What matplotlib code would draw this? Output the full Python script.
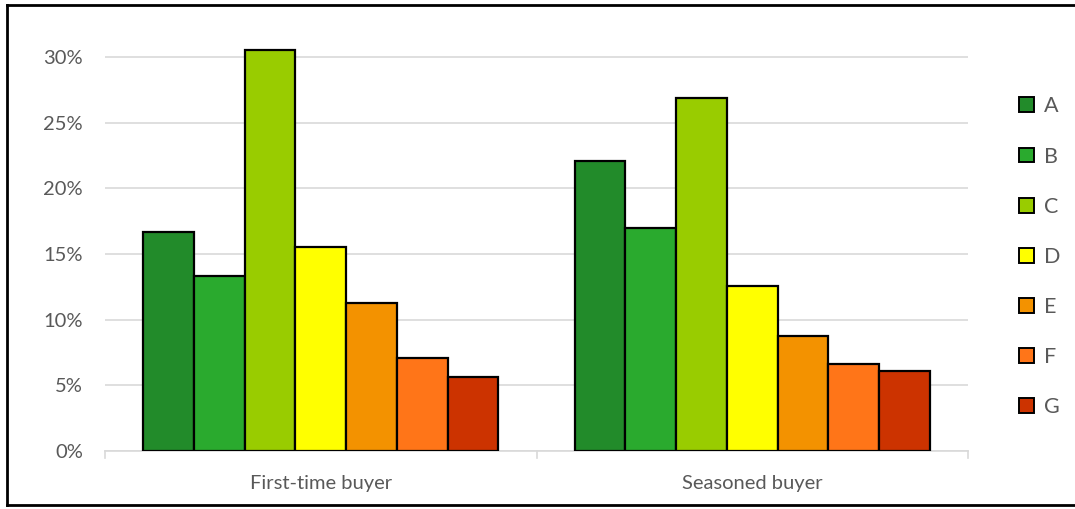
import numpy as np
import matplotlib.pyplot as plt
from matplotlib.lines import Line2D
from matplotlib.patches import Patch

plt.rcParams['font.family'] = ['Lato', 'DejaVu Sans']

# dados
groups = ['First-time buyer', 'Seasoned buyer']
series = ['A', 'B', 'C', 'D', 'E', 'F', 'G']
values = {
    'A': [16.7, 22.1],
    'B': [13.3, 17.0],
    'C': [30.5, 26.9],
    'D': [15.5, 12.6],
    'E': [11.3, 8.75],
    'F': [7.1, 6.65],
    'G': [5.65, 6.1],
}
colors = ['#228B2A', '#2AAA2E', '#99CC00', '#FFFF00', '#F39200', '#FF7518', '#CC3300']

W, H = 1075, 509
fig = plt.figure(figsize=(W / 100, H / 100), dpi=100)
ax = fig.add_axes([105 / W, 1 - 451 / H, (968 - 105) / W, (451 - 30) / H])

gray = '#595959'
x = np.arange(len(groups))
bw = 0.1175
for i, s in enumerate(series):
    off = (i - 3) * bw
    ax.bar(x + off, np.array(values[s]) / 100, width=bw, color=colors[i],
           edgecolor='black', linewidth=1.6, zorder=3)

ax.set_xlim(-0.5, 1.5)
ax.set_ylim(0, 0.30 * 421 / 394)
ax.set_yticks(np.arange(0, 0.31, 0.05))
ax.set_yticklabels([f'{int(round(v * 100))}%' for v in np.arange(0, 0.31, 0.05)])
ax.yaxis.grid(True, color='#D9D9D9', linewidth=1.2, zorder=0)
ax.tick_params(axis='y', length=0, pad=16, labelsize=14.5, labelcolor=gray)

ax.set_xticks(x)
ax.set_xticklabels(groups)
ax.tick_params(axis='x', length=0, pad=17, labelsize=14.5, labelcolor=gray)
# separadores das categorias
for xs in [-0.5, 0.5, 1.5]:
    ax.plot([xs, xs], [0, -0.005], color='#D9D9D9', linewidth=1.2, clip_on=False, zorder=2)

for sp in ['top', 'right', 'left']:
    ax.spines[sp].set_visible(False)
ax.spines['bottom'].set_color('#D9D9D9')
ax.spines['bottom'].set_linewidth(1.2)

handles = [Patch(facecolor=c, edgecolor='black', linewidth=1.4) for c in colors]
leg = fig.legend(handles, series, loc='upper left', bbox_to_anchor=(1000 / W, 1 - 77 / H),
                 frameon=False, fontsize=15.5, labelspacing=1.40, handlelength=0.68,
                 handleheight=0.68, handletextpad=0.45, labelcolor=gray)

# moldura
fig.add_artist(Line2D([7 / W, 1], [1 - 5 / H, 1 - 5 / H], color='black', linewidth=2))
fig.add_artist(Line2D([7 / W, 7 / W], [1 - 5 / H, 1 - 505 / H], color='black', linewidth=2))
fig.add_artist(Line2D([7 / W, 1], [1 - 505 / H, 1 - 505 / H], color='black', linewidth=2))

fig.savefig('out.png', dpi=100)
